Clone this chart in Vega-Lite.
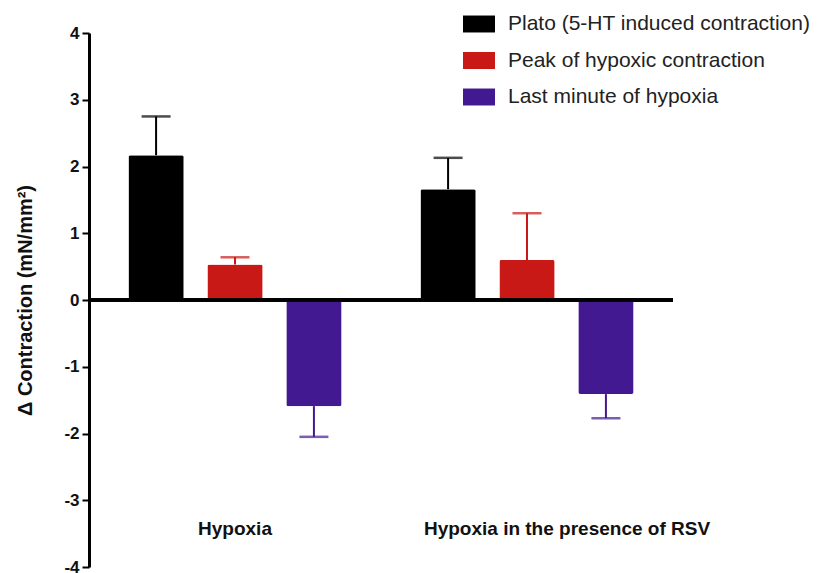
{
  "$schema": "https://vega.github.io/schema/vega-lite/v6.json",
  "width": 584,
  "height": 534,
  "autosize": {"type": "none"},
  "padding": {"left": 89, "top": 33, "right": 144, "bottom": 6},
  "background": "white",
  "config": {"view": {"stroke": null}, "font": "Liberation Sans"},
  "data": {
    "values": [
      {"group": "Hypoxia", "series": "Plato (5-HT induced contraction)", "value": 2.17, "err": 2.75},
      {"group": "Hypoxia", "series": "Peak of hypoxic contraction", "value": 0.53, "err": 0.64},
      {"group": "Hypoxia", "series": "Last minute of hypoxia", "value": -1.59, "err": -2.05},
      {"group": "Hypoxia in the presence of RSV", "series": "Plato (5-HT induced contraction)", "value": 1.66, "err": 2.13},
      {"group": "Hypoxia in the presence of RSV", "series": "Peak of hypoxic contraction", "value": 0.6, "err": 1.3},
      {"group": "Hypoxia in the presence of RSV", "series": "Last minute of hypoxia", "value": -1.41, "err": -1.77}
    ]
  },
  "encoding": {
    "x": {
      "field": "group", "type": "nominal", "sort": null,
      "scale": {"paddingInner": 0, "paddingOuter": 0},
      "axis": {
        "title": null, "domain": false, "ticks": false, "labelAngle": 0,
        "labelFontWeight": "bold", "labelFontSize": 19, "labelColor": "#111",
        "labelPadding": -48, "labelLimit": 500,
        "labelOffset": {"condition": {"test": "datum.value == 'Hypoxia'", "value": 0}, "value": 40}
      }
    },
    "xOffset": {
      "field": "series", "type": "nominal",
      "sort": ["Plato (5-HT induced contraction)", "Peak of hypoxic contraction", "Last minute of hypoxia"],
      "scale": {"paddingInner": 0.3, "paddingOuter": 0.5}
    },
    "color": {
      "field": "series", "type": "nominal",
      "scale": {
        "domain": ["Plato (5-HT induced contraction)", "Peak of hypoxic contraction", "Last minute of hypoxia"],
        "range": ["#000000", "#c81916", "#431991"]
      },
      "legend": {
        "title": null, "orient": "none", "legendX": 374, "legendY": -25,
        "padding": 0,
        "symbolType": "M-1,-0.53H1V0.53H-1Z", "symbolSize": 1024, "symbolStrokeWidth": 0, "symbolOpacity": 1,
        "labelFontSize": 21, "labelColor": "#222", "labelOffset": 13, "rowPadding": 10.5,
        "labelLimit": 400
      }
    }
  },
  "layer": [
    {
      "mark": {"type": "bar", "cornerRadius": 2},
      "encoding": {
        "y": {
          "field": "value", "type": "quantitative",
          "scale": {"domain": [-4, 4], "nice": false},
          "axis": {
            "title": "Δ Contraction (mN/mm²)", "titleFontSize": 20, "titleFontWeight": "bold", "titleColor": "#111",
            "titlePadding": 28,
            "values": [-4, -3, -2, -1, 0, 1, 2, 3, 4],
            "labelExpr": "'' + datum.value",
            "grid": false, "domainColor": "#000", "domainWidth": 3,
            "tickColor": "#000", "tickWidth": 2, "tickSize": 7,
            "labelFontSize": 17, "labelFontWeight": "bold", "labelColor": "#111", "labelPadding": 3
          }
        }
      }
    },
    {
      "mark": {"type": "rule", "strokeWidth": 2},
      "encoding": {
        "y": {"field": "value", "type": "quantitative"},
        "y2": {"field": "err"}
      }
    },
    {
      "mark": {"type": "tick", "size": 29, "thickness": 2.5},
      "encoding": {
        "y": {"field": "err", "type": "quantitative"}
      }
    },
    {
      "mark": {"type": "rule", "strokeWidth": 3, "color": "#000"},
      "encoding": {"y": {"datum": 0}, "x": null, "xOffset": null, "color": null}
    }
  ]
}
